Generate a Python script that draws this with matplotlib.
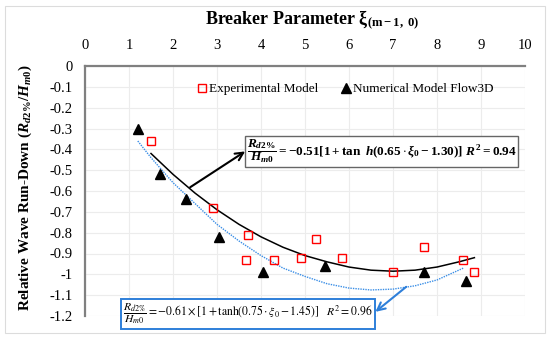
import matplotlib
matplotlib.use("Agg")
import matplotlib.pyplot as plt
from matplotlib.patches import Rectangle

# experimental model (red squares)
exp_x = [1.5, 2.9, 3.7, 3.65, 4.3, 4.9, 5.25, 5.85, 7.0, 7.7, 8.6, 8.85]
exp_y = [-0.36, -0.68, -0.81, -0.93, -0.93, -0.92, -0.83, -0.92, -0.99, -0.87, -0.93, -0.99]

# numerical model Flow3D (black triangles)
num_x = [1.2, 1.7, 2.3, 3.05, 4.05, 5.45, 7.7, 8.65]
num_y = [-0.30, -0.52, -0.64, -0.82, -0.99, -0.96, -0.99, -1.03]

# trend lines
fit_exp_x = [1.5, 2.0, 2.5, 3.0, 3.5, 4.0, 4.5, 5.0, 5.5, 6.0, 6.5, 7.0, 7.5, 8.0, 8.5, 8.85]
fit_exp_y = [-0.42, -0.52, -0.61, -0.69, -0.76, -0.82, -0.87, -0.91, -0.94, -0.965, -0.98,
             -0.985, -0.98, -0.965, -0.94, -0.92]
fit_num_x = [1.2, 1.5, 2.0, 2.5, 3.0, 3.5, 4.0, 4.5, 5.0, 5.5, 6.0, 6.5, 7.0, 7.5, 8.0, 8.6]
fit_num_y = [-0.36, -0.44, -0.56, -0.66, -0.76, -0.84, -0.91, -0.97, -1.01, -1.045, -1.066,
             -1.075, -1.071, -1.055, -1.027, -0.97]

xticks = list(range(0, 11))
yticks = [0, -0.1, -0.2, -0.3, -0.4, -0.5, -0.6, -0.7, -0.8, -0.9, -1.0, -1.1, -1.2]
ylabels = ['0', '-0.1', '-0.2', '-0.3', '-0.4', '-0.5', '-0.6', '-0.7', '-0.8', '-0.9', '-1', '-1.1', '-1.2']

plt.rcParams['font.family'] = ['Liberation Serif', 'DejaVu Serif']
plt.rcParams['mathtext.fontset'] = 'custom'
plt.rcParams['mathtext.rm'] = 'Liberation Serif:bold'
plt.rcParams['mathtext.bf'] = 'Liberation Serif:bold'
plt.rcParams['mathtext.it'] = 'Liberation Serif:italic:bold'
plt.rcParams['mathtext.bfit'] = 'Liberation Serif:italic:bold'

fig = plt.figure(figsize=(5.5, 3.39), dpi=100)
ax = fig.add_axes([85/550, 1 - 316/339, 440/550, 250/339])

# faint chart-area border
fig.patches.append(Rectangle((5/550, 6/339), 540/550, 327/339, transform=fig.transFigure,
                             fill=False, edgecolor='#dcdcdc', lw=0.8))

ax.plot(fit_exp_x, fit_exp_y, color='black', lw=1.1, zorder=3)
ax.plot(fit_num_x, fit_num_y, color='#3a8ee6', lw=1.0, ls=(0, (1, 0.8)), zorder=3)
ax.plot(exp_x, exp_y, ls='none', marker='s', ms=6, mfc='none', mec='#ff0000', mew=1.0,
        label='Experimental Model', zorder=4)
ax.plot(num_x, num_y, ls='none', marker='^', ms=7.5, color='black',
        label='Numerical Model Flow3D', zorder=4)

ax.set_xlim(0, 10)
ax.set_ylim(-1.2, 0)
ax.xaxis.tick_top()
ax.set_xticks(xticks)
ax.set_yticks(yticks)
ax.set_yticklabels(ylabels)
ax.tick_params(length=0, labelsize=10.5)
ax.tick_params(axis='x', pad=10)
ax.tick_params(axis='y', pad=9)
ax.grid(True, color='#ececec', lw=0.8)
ax.set_axisbelow(True)
for s in ['right', 'bottom']:
    ax.spines[s].set_visible(False)
for s in ['left', 'top']:
    ax.spines[s].set_color('#808080')
    ax.spines[s].set_linewidth(1.6)

fig.text(312/550, 1 - 20/339, r'Breaker Parameter $\mathbf{\xi_{(m-1,\ 0)}}$',
         ha='center', va='center', fontsize=13, fontweight='bold')
fig.text(25/550, 1 - 188/339, r'Relative Wave Run-Down ($R_{d2\%}/H_{m0}$)',
         ha='center', va='center', rotation=90, fontsize=11, fontweight='bold')

ax.legend(loc='center', bbox_to_anchor=(0.59, 1 - 23/250), ncol=2, frameon=False,
          fontsize=9.5, handletextpad=0.05, columnspacing=1.6, handlelength=1.0)

# equation boxes
ax.text(3.68, -0.41, r'$\dfrac{R_{d2\%}}{H_{m0}} = -0.51[1 + \tan\ h(0.65 \cdot \xi_0 - 1.30)]\ R^2 = 0.94$',
        ha='left', va='center', fontsize=9.5,
        bbox=dict(boxstyle='square,pad=0.12', fc='white', ec='#666666', lw=1.0), zorder=5)
ax.annotate('', xy=(3.64, -0.41), xytext=(2.39, -0.582),
            arrowprops=dict(arrowstyle='->', color='black', lw=1.5, mutation_scale=14,
                            shrinkA=0, shrinkB=0), zorder=5)

ax.text(0.86, -1.19, r'$\dfrac{R_{d2\%}}{H_{m0}} = -0.61 \times [1 + \mathrm{tanh}(0.75 \cdot \xi_0 - 1.45)]\quad R^2 = 0.96$',
        ha='left', va='center', fontsize=8.4, math_fontfamily='stix', clip_on=False,
        bbox=dict(boxstyle='square,pad=0.2', fc='white', ec='#2e7fd9', lw=1.4), zorder=5)
ax.annotate('', xy=(6.6, -1.18), xytext=(7.3, -1.06),
            arrowprops=dict(arrowstyle='->', color='#2e7fd9', lw=1.5, mutation_scale=14,
                            shrinkA=0, shrinkB=0), zorder=5, annotation_clip=False)

fig.savefig('out.png', dpi=100)
